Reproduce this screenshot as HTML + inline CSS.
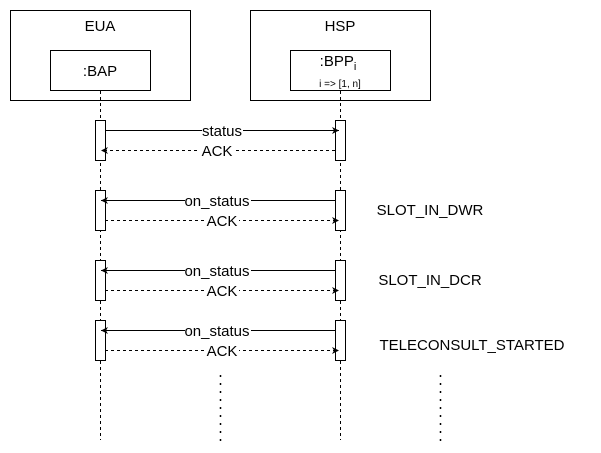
<!DOCTYPE html>
<html><head><meta charset="utf-8"><style>body{margin:0;background:#fff}svg{display:block}text{font-family:"Liberation Sans",sans-serif;fill:#000}</style></head><body>
<svg width="601" height="453" viewBox="0 0 601 453" xmlns="http://www.w3.org/2000/svg">
<defs>
<marker id="a" markerWidth="8" markerHeight="8" refX="7" refY="4" orient="auto" markerUnits="userSpaceOnUse"><path d="M0,0.5 L7,4 L0,7.5 L2,4 Z" fill="#000"/></marker>
</defs>
<g fill="none" stroke="#000" stroke-width="1">
<rect x="10.5" y="10.5" width="180" height="90"/>
<rect x="50.5" y="50.5" width="100" height="40"/>
<rect x="250.5" y="10.5" width="180" height="90"/>
<rect x="290.5" y="50.5" width="100" height="40"/>
<line x1="100.5" y1="91" x2="100.5" y2="440" stroke-dasharray="3,3"/>
<line x1="340.5" y1="91" x2="340.5" y2="440" stroke-dasharray="3,3"/>
</g>
<g fill="#fff" stroke="#000">
<rect x="95.5" y="120.5" width="10" height="40"/><rect x="335.5" y="120.5" width="10" height="40"/>
<rect x="95.5" y="190.5" width="10" height="40"/><rect x="335.5" y="190.5" width="10" height="40"/>
<rect x="95.5" y="260.5" width="10" height="40"/><rect x="335.5" y="260.5" width="10" height="40"/>
<rect x="95.5" y="320.5" width="10" height="40"/><rect x="335.5" y="320.5" width="10" height="40"/>
</g>
<g stroke="#000" fill="none">
<line x1="105" y1="130.5" x2="339" y2="130.5" marker-end="url(#a)"/>
<line x1="335" y1="150.5" x2="101" y2="150.5" stroke-dasharray="3,3" marker-end="url(#a)"/>
<line x1="335" y1="200.5" x2="101" y2="200.5" marker-end="url(#a)"/>
<line x1="105" y1="220.5" x2="339" y2="220.5" stroke-dasharray="3,3" marker-end="url(#a)"/>
<line x1="335" y1="270.5" x2="101" y2="270.5" marker-end="url(#a)"/>
<line x1="105" y1="290.5" x2="339" y2="290.5" stroke-dasharray="3,3" marker-end="url(#a)"/>
<line x1="335" y1="330.5" x2="101" y2="330.5" marker-end="url(#a)"/>
<line x1="105" y1="350.5" x2="339" y2="350.5" stroke-dasharray="3,3" marker-end="url(#a)"/>
<line x1="220.5" y1="375" x2="220.5" y2="441" stroke-dasharray="2,6" stroke-width="1.5"/>
<line x1="440.5" y1="375" x2="440.5" y2="441" stroke-dasharray="2,6" stroke-width="1.5"/>
</g>
<g font-size="15" text-anchor="middle">
<text x="100" y="31">EUA</text>
<text x="340" y="31">HSP</text>
<text x="100" y="76">:BAP</text>
<text x="338" y="66">:BPP<tspan font-size="11" dy="4">i</tspan></text>
<text x="340" y="87" font-size="10">i =&gt; [1, n]</text>
</g>
<g font-size="15" text-anchor="middle">
<rect x="202" y="122" width="41" height="16" fill="#fff"/><text x="222" y="136">status</text>
<rect x="200" y="142" width="34" height="16" fill="#fff"/><text x="217" y="156">ACK</text>
<rect x="185" y="192" width="66" height="16" fill="#fff"/><text x="217" y="206">on_status</text>
<rect x="205" y="212" width="34" height="16" fill="#fff"/><text x="222" y="226">ACK</text>
<rect x="185" y="262" width="66" height="16" fill="#fff"/><text x="217" y="276">on_status</text>
<rect x="205" y="282" width="34" height="16" fill="#fff"/><text x="222" y="296">ACK</text>
<rect x="185" y="322" width="66" height="16" fill="#fff"/><text x="217" y="336">on_status</text>
<rect x="205" y="342" width="34" height="16" fill="#fff"/><text x="222" y="356">ACK</text>
<text x="430" y="215">SLOT_IN_DWR</text>
<text x="430" y="285">SLOT_IN_DCR</text>
<text x="472" y="350">TELECONSULT_STARTED</text>
</g>
</svg>
</body></html>
